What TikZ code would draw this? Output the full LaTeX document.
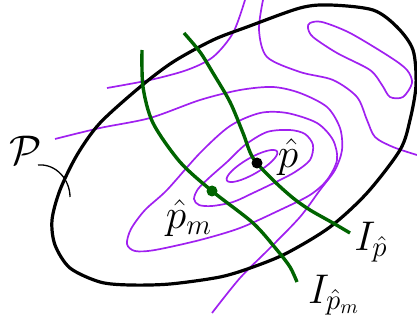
\documentclass[tikz,border=0pt]{standalone}
\definecolor{cpurple}{RGB}{160,32,240}
\definecolor{cgreen}{RGB}{0,100,0}
\begin{document}
\begin{tikzpicture}[x=0.5pt,y=-0.5pt,
  region/.style={line width=1.6pt, black},
  contour/.style={line width=0.85pt, cpurple},
  iso/.style={line width=1.7pt, cgreen},
  thinline/.style={line width=0.65pt, black},
  lbl/.style={inner sep=0pt, font=\fontsize{20}{24}\selectfont},
  dotnode/.style={circle, inner sep=0pt, minimum size=5.5pt}]
\useasboundingbox (0,0) rectangle (417,320);

% purple level curves
\draw[contour] plot[smooth] coordinates {(55,139) (100,128) (150,118) (200,100) (240,90) (273,87) (300,93) (327,107) (340,128) (342,150) (335,170) (320,190) (300,217) (270,248) (240,278) (212,313)};
\draw[contour] plot[smooth] coordinates {(107,88) (150,80) (187,70) (213,57) (233,33) (245,0)};
\draw[contour] plot[smooth] coordinates {(263,0) (259,30) (267,57) (300,72) (333,80) (357,97) (367,120) (375,137) (393,147) (417,155)};
\draw[contour] plot[smooth cycle] coordinates {(310,23) (322,22) (350,33) (390,57) (407,70) (412,83) (403,97) (390,97) (382,85) (370,70) (337,53) (313,37) (308,28)};
\draw[contour] plot[smooth cycle] coordinates {(127,244) (131,229) (145,210) (167,190) (200,153) (230,126) (260,113) (287,113) (317,123) (333,140) (337,160) (327,180) (310,195) (280,210) (240,228) (200,240) (155,250) (135,251)};
\draw[contour] plot[smooth cycle] coordinates {(194,199) (198,189) (210,177) (227,162) (245,145) (267,132) (290,130) (305,134) (313,145) (310,160) (295,172) (278,181) (253,193) (233,202) (212,206) (199,205)};
\draw[contour, rotate around={30:(252,166)}] (252,166) ellipse [x radius=29, y radius=8];

% region P
\draw[region] plot[smooth cycle] coordinates {(52,220) (60,190) (77,155) (100,123) (140,87) (173,62) (213,40) (247,27) (300,8) (330,5) (373,10) (397,27) (413,50) (416,85) (410,120) (400,150) (367,193) (330,227) (287,253) (253,267) (220,277) (170,284) (130,285) (100,282) (70,268) (55,245)};

% green curves
\draw[iso] plot[smooth] coordinates {(142,50) (143,87) (153,123) (180,162) (212,191) (253,223) (277,250) (290,267) (297,282)};
\draw[iso] plot[smooth] coordinates {(184,33) (200,52) (213,73) (230,102) (243,133) (253,158) (273,180) (293,198) (310,210) (333,223) (350,233)};

% points
\node[dotnode, fill=cgreen] (pm) at (212,191) {};
\node[dotnode, fill=black] (ph) at (257,163) {};

% labels
\node[lbl] (P) at (26,150) {$\mathcal{P}$};
\node[lbl] (lph) at (288,157) {$\hat p$};
\node[lbl] (lpm) at (189,218) {$\hat p_m$};
\node[lbl] (Iph) at (371,242) {$I_{\hat p}$};
\node[lbl] (Ipm) at (334,295) {$I_{\hat p_m}$};

\coordinate (pc1) at (38,165);
\coordinate (pc2) at (70,197);
\draw[thinline] (pc1) to[out=5,in=90] (pc2);
\end{tikzpicture}
\end{document}
